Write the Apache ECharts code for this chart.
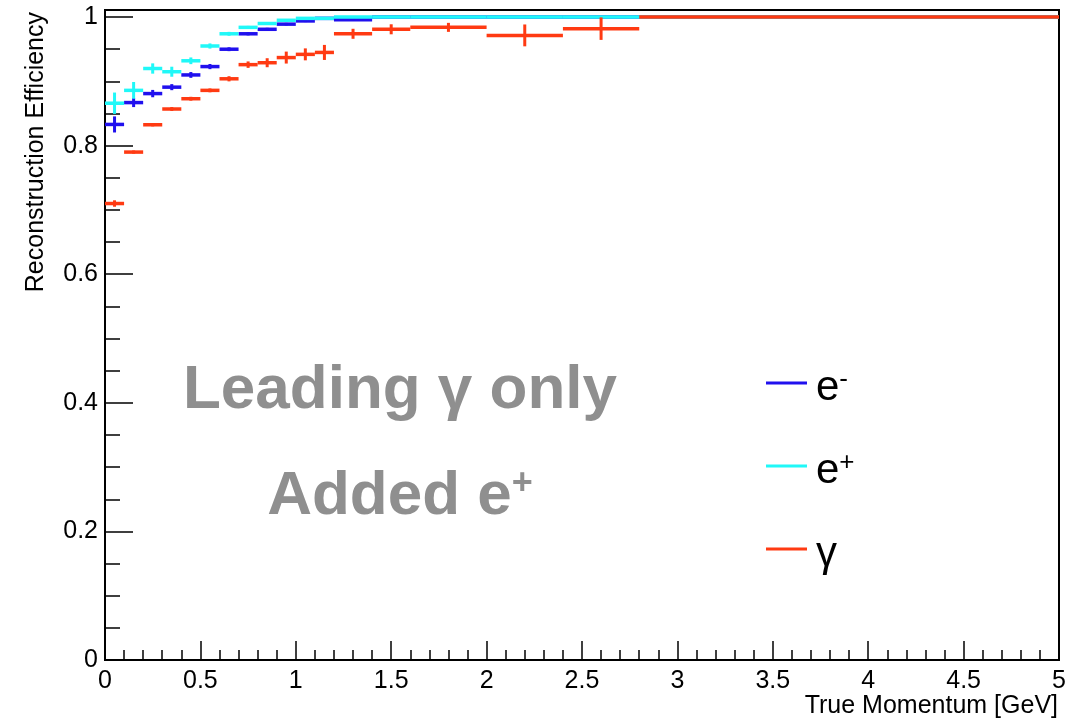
<!DOCTYPE html>
<html>
<head>
<meta charset="utf-8">
<script src="https://cdn.jsdelivr.net/npm/echarts@6/dist/echarts.min.js"></script>
<style>
  html, body { margin: 0; padding: 0; background: #fff; }
  #report { width: 1088px; height: 719px; }
</style>
</head>
<body>
<div id="report"></div>
<script>
// bin edges of the efficiency histograms (GeV)
var binEdges = [0, 0.1, 0.2, 0.3, 0.4, 0.5, 0.6, 0.7, 0.8, 0.9, 1.0, 1.1, 1.2, 1.4, 1.6, 2.0, 2.4, 2.8, 5.0];

// e-
var effElectron = [0.833, 0.867, 0.881, 0.891, 0.910, 0.923, 0.950, 0.974, 0.981, 0.989, 0.994, 0.998, 0.996, 1, 1, 1, 1, 1];
var errElectron = [0.0125, 0.007, 0.0057, 0.0047, 0.0045, 0.004, 0.003, 0.0025, 0.0023, 0.002, 0.0018, 0.0012, 0.0012, 0, 0, 0, 0, 0];
// e+
var effPositron = [0.866, 0.886, 0.920, 0.915, 0.932, 0.955, 0.974, 0.984, 0.990, 0.995, 0.998, 0.998, 1, 1, 1, 1, 1, 1];
var errPositron = [0.0166, 0.013, 0.008, 0.0078, 0.0052, 0.004, 0.003, 0.0023, 0.0017, 0.0015, 0.0012, 0.0012, 0, 0, 0, 0, 0, 0];
// gamma
var effPhoton = [0.710, 0.790, 0.8325, 0.857, 0.873, 0.886, 0.904, 0.926, 0.929, 0.937, 0.942, 0.945, 0.974, 0.981, 0.984, 0.9715, 0.982, 1.0];
var errPhoton = [0.005, 0.0025, 0.0025, 0.003, 0.003, 0.003, 0.004, 0.005, 0.007, 0.0093, 0.0093, 0.0117, 0.0078, 0.0078, 0.007, 0.017, 0.0175, 0];

var seriesNames = ['e-', 'e+', 'γ'];
var xTicks = [0, 0.5, 1, 1.5, 2, 2.5, 3, 3.5, 4, 4.5, 5];
var yTicks = [0, 0.2, 0.4, 0.6, 0.8, 1];

var font = 'Liberation Sans, Arial, Helvetica, sans-serif';

function toBins(eff, err) {
    var out = [];
    for (var i = 0; i < eff.length; i++) {
        out.push([binEdges[i], binEdges[i + 1], eff[i], err[i]]);
    }
    return out;
}

// one histogram bin: horizontal bar across the bin + vertical error bar
function renderBin(params, api) {
    var lo = api.coord([api.value(0), api.value(2)]);
    var hi = api.coord([api.value(1), api.value(2)]);
    var mid = (api.value(0) + api.value(1)) / 2;
    var top = api.coord([mid, api.value(2) + api.value(3)]);
    var bot = api.coord([mid, api.value(2) - api.value(3)]);
    var color = api.visual('color');
    return {
        type: 'group',
        children: [
            {type: 'line', shape: {x1: lo[0], y1: lo[1], x2: hi[0], y2: hi[1]}, style: {stroke: color, lineWidth: 3.5}},
            {type: 'line', shape: {x1: top[0], y1: top[1], x2: bot[0], y2: bot[1]}, style: {stroke: color, lineWidth: 3}}
        ]
    };
}

function histSeries(name, color, eff, err) {
    return {
        name: name,
        type: 'custom',
        renderItem: renderBin,
        itemStyle: {color: color},
        encode: {x: [0, 1], y: 2},
        data: toBins(eff, err)
    };
}

var myChart = echarts.init(document.getElementById('report'));
var option = {
    animation: false,
    backgroundColor: '#fff',
    grid: {
        left: 105, right: 29, top: 10, bottom: 59,
        show: true, borderColor: '#000', borderWidth: 2,
        outerBoundsMode: 'none'
    },
    xAxis: {
        type: 'value',
        min: xTicks[0], max: xTicks[xTicks.length - 1], interval: 0.5,
        splitLine: {show: false},
        axisLine: {lineStyle: {color: '#000', width: 2}},
        axisTick: {inside: true, length: 19, lineStyle: {color: '#000', width: 1.5}},
        minorTick: {show: true, splitNumber: 5, length: 10, lineStyle: {color: '#000', width: 1.5}},
        axisLabel: {color: '#000', fontSize: 25, fontFamily: font, margin: 9}
    },
    yAxis: {
        type: 'value',
        min: 0, max: 1.011, interval: 0.2,
        splitLine: {show: false},
        axisLine: {lineStyle: {color: '#000', width: 2}},
        axisTick: {inside: true, length: 28, lineStyle: {color: '#000', width: 1.5}},
        minorTick: {show: true, splitNumber: 4, length: 15, lineStyle: {color: '#000', width: 1.5}},
        axisLabel: {
            color: '#000', fontSize: 25, fontFamily: font, margin: 7,
            formatter: function (v) {
                for (var i = 0; i < yTicks.length; i++) {
                    if (Math.abs(v - yTicks[i]) < 1e-6) return String(yTicks[i]);
                }
                return '';
            }
        }
    },
    legend: {
        orient: 'vertical',
        left: 766, top: 367,
        padding: 0,
        itemWidth: 41, itemHeight: 3, itemGap: 41,
        selectedMode: false,
        data: [
            {name: seriesNames[0], icon: 'rect'},
            {name: seriesNames[1], icon: 'rect'},
            {name: seriesNames[2], icon: 'rect'}
        ],
        formatter: function (name) {
            if (name === 'e-') return '{m|e}{s|-}';
            if (name === 'e+') return '{m|e}{s|+}';
            return '{m|' + name + '}';
        },
        textStyle: {
            padding: [10, 0, 0, 4],
            rich: {
                m: {fontSize: 42, lineHeight: 42, fontFamily: font, color: '#000'},
                s: {fontSize: 26, lineHeight: 26, fontFamily: font, color: '#000', verticalAlign: 'top'}
            }
        }
    },
    graphic: [
        {
            type: 'text', x: 36, y: 12, rotation: Math.PI / 2,
            style: {text: 'Reconstruction Efficiency', fill: '#000', font: '25px ' + font, align: 'right', verticalAlign: 'middle'}
        },
        {
            type: 'text', x: 1058, y: 706,
            style: {text: 'True Momentum [GeV]', fill: '#000', font: '25px ' + font, align: 'right', verticalAlign: 'middle'}
        },
        {
            type: 'text', x: 400, y: 391,
            style: {text: 'Leading γ only', fill: '#8f8f8f', font: 'bold 62px ' + font, align: 'center', verticalAlign: 'middle'}
        },
        {
            type: 'text', x: 400, y: 497,
            style: {
                text: '{a|Added e}{p|+}', align: 'center', verticalAlign: 'middle',
                rich: {
                    a: {fill: '#8f8f8f', fontSize: 62, fontWeight: 'bold', fontFamily: font, lineHeight: 62},
                    p: {fill: '#8f8f8f', fontSize: 36, fontWeight: 'bold', fontFamily: font, lineHeight: 36, verticalAlign: 'top'}
                }
            }
        }
    ],
    series: [
        histSeries(seriesNames[0], '#2010ee', effElectron, errElectron),
        histSeries(seriesNames[1], '#20f8f8', effPositron, errPositron),
        histSeries(seriesNames[2], '#ff3a12', effPhoton, errPhoton)
    ]
};
myChart.setOption(option);
</script>
</body>
</html>
